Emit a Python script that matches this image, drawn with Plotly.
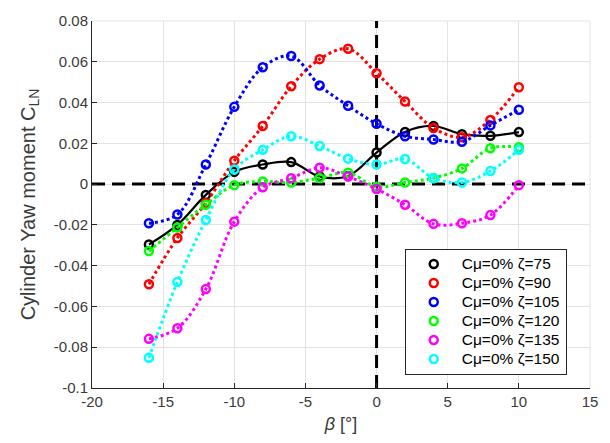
import plotly.graph_objects as go

beta = [-16, -14, -12, -10, -8, -6, -4, -2, 0, 2, 4, 6, 8, 10]

cln_z75 = [-0.0296, -0.0200, -0.0053, 0.0060, 0.0096, 0.0108, 0.0037, 0.0040, 0.0155, 0.0256, 0.0285, 0.0245, 0.0237, 0.0255]
cln_z90 = [-0.0491, -0.0264, -0.0093, 0.0115, 0.0285, 0.0480, 0.0613, 0.0664, 0.0544, 0.0405, 0.0275, 0.0230, 0.0315, 0.0475]
cln_z105 = [-0.0192, -0.0149, 0.0096, 0.0379, 0.0573, 0.0628, 0.0484, 0.0384, 0.0296, 0.0235, 0.0219, 0.0208, 0.0288, 0.0365]
cln_z120 = [-0.0328, -0.0213, -0.0101, -0.0005, 0.0013, 0.0008, 0.0030, 0.0056, -0.0013, 0.0008, 0.0030, 0.0077, 0.0176, 0.0181]
cln_z135 = [-0.0759, -0.0707, -0.0515, -0.0184, -0.0016, 0.0029, 0.0080, 0.0037, -0.0024, -0.0101, -0.0195, -0.0192, -0.0152, -0.0005]
cln_z150 = [-0.0852, -0.0480, -0.0176, 0.0072, 0.0168, 0.0235, 0.0187, 0.0125, 0.0096, 0.0123, 0.0029, 0.0008, 0.0064, 0.0168]

series_names = ["Cμ=0% ζ=75", "Cμ=0% ζ=90", "Cμ=0% ζ=105", "Cμ=0% ζ=120", "Cμ=0% ζ=135", "Cμ=0% ζ=150"]
series_values = [cln_z75, cln_z90, cln_z105, cln_z120, cln_z135, cln_z150]
series_colors = ["#000000", "#FF0000", "#0000FF", "#00FF00", "#FF00FF", "#00FFFF"]
series_dash = ["solid", "dot", "dot", "dot", "dot", "dot"]

x_range = [-20, 15]
y_range = [-0.1, 0.08]
x_ticks = [-20, -15, -10, -5, 0, 5, 10, 15]
x_ticklabels = ["-20", "-15", "-10", "-5", "0", "5", "10", "15"]
y_ticks = [-0.1, -0.08, -0.06, -0.04, -0.02, 0, 0.02, 0.04, 0.06, 0.08]
y_ticklabels = ["-0.1", "-0.08", "-0.06", "-0.04", "-0.02", "0", "0.02", "0.04", "0.06", "0.08"]

fig = go.Figure()

# zero reference lines (dashed), spanning the full axis ranges
fig.add_trace(go.Scatter(x=x_range, y=[0, 0], mode="lines", showlegend=False, hoverinfo="skip",
                         line=dict(color="black", width=3, dash="13px,7px")))
fig.add_trace(go.Scatter(x=[0, 0], y=y_range, mode="lines", showlegend=False, hoverinfo="skip",
                         line=dict(color="black", width=3, dash="13px,7px")))

for name, vals, col, dash in zip(series_names, series_values, series_colors, series_dash):
    fig.add_trace(go.Scatter(
        x=beta, y=vals, mode="lines+markers", showlegend=False,
        line=dict(color=col, width=3 if dash == "dot" else 2.2, dash=dash, shape="spline"),
        marker=dict(symbol="circle-open", size=8, color=col, line=dict(color=col, width=2.5)),
    ))

for name, col in zip(series_names, series_colors):
    fig.add_trace(go.Scatter(
        x=[None], y=[None], mode="markers",
        name="<span style='font-size:15.5px'>" + name + "</span>",
        marker=dict(symbol="circle-open", size=8, color=col, line=dict(color=col, width=2.5)),
    ))

fig.add_shape(type="line", xref="paper", yref="paper", x0=0, x1=1, y0=1, y1=1,
              line=dict(color="#e3e3e3", width=1), layer="below")
fig.add_shape(type="line", xref="paper", yref="paper", x0=1, x1=1, y0=0, y1=1,
              line=dict(color="#e3e3e3", width=1), layer="below")

font_family = "Liberation Sans, Arial, sans-serif"
tick_color = "#3a3a3a"

fig.update_layout(
    width=610, height=443,
    margin=dict(l=92, r=13, t=15, b=54),
    paper_bgcolor="white", plot_bgcolor="white",
    font=dict(family=font_family, color=tick_color),
    legend=dict(
        x=0.628, y=0.38, xanchor="left", yanchor="top",
        bgcolor="white", bordercolor="#262626", borderwidth=1,
        font=dict(size=11.5, color="#000000", family=font_family),
        itemwidth=46, tracegroupgap=0,
    ),
    xaxis=dict(
        range=x_range, tickvals=x_ticks, ticktext=x_ticklabels,
        showgrid=True, gridcolor="#e3e3e3", gridwidth=1,
        showline=True, linecolor="#262626", linewidth=1,
        ticks="inside", ticklen=5, tickcolor="#262626",
        tickfont=dict(size=15, color=tick_color), zeroline=False,
        title=dict(text="<i>β</i> [°]", font=dict(size=18, color=tick_color), standoff=8),
    ),
    yaxis=dict(
        range=y_range, tickvals=y_ticks, ticktext=y_ticklabels,
        showgrid=True, gridcolor="#e3e3e3", gridwidth=1,
        showline=True, linecolor="#262626", linewidth=1,
        ticks="inside", ticklen=5, tickcolor="#262626",
        tickfont=dict(size=15, color=tick_color), zeroline=False,
        title=dict(text="Cylinder Yaw moment C<sub>LN</sub>", font=dict(size=20, color=tick_color), standoff=12),
    ),
)

fig.write_html("out.html")
